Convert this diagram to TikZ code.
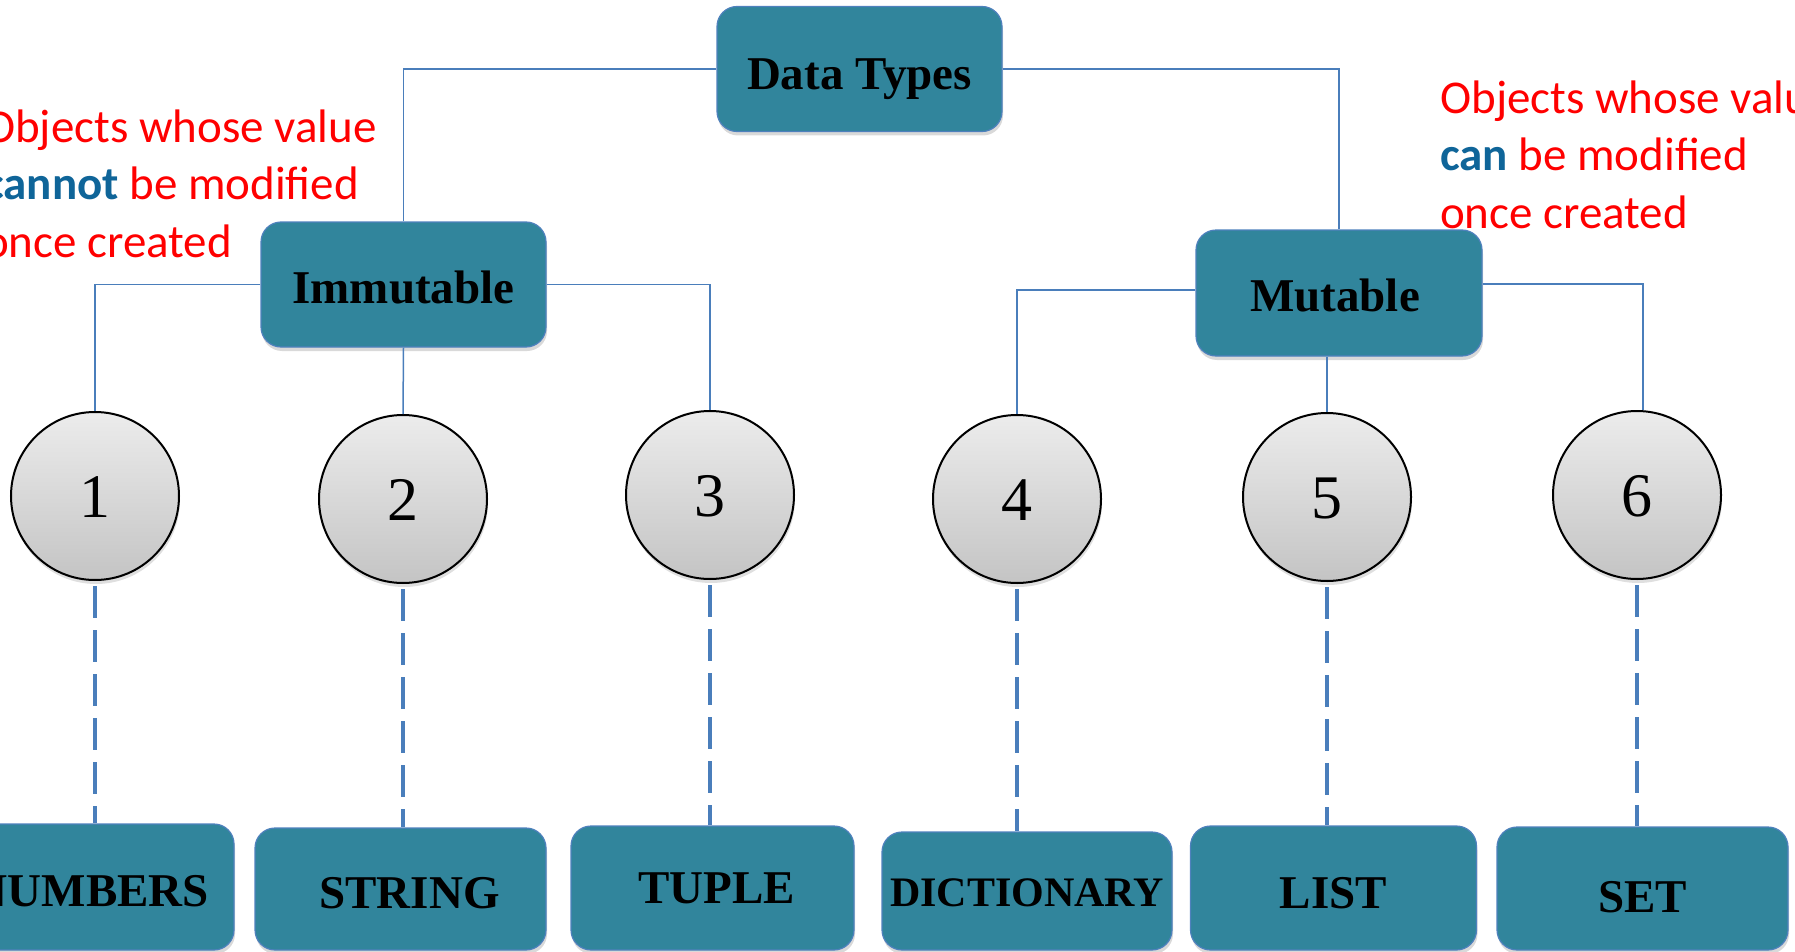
\documentclass[tikz,border=0pt]{standalone}
\usepackage{fontspec}
\setmainfont{Liberation Serif}
\newfontfamily\calib{Carlito}
\usetikzlibrary{shadows}
\definecolor{tealfill}{RGB}{49,133,156}
\definecolor{lineblue}{RGB}{74,126,187}
\definecolor{boxedge}{RGB}{79,129,189}
\definecolor{ctop}{RGB}{236,236,236}
\definecolor{cbot}{RGB}{196,196,196}
\definecolor{canblue}{RGB}{15,101,153}
\definecolor{annred}{RGB}{255,0,0}
\begin{document}
\begin{tikzpicture}[x=1pt,y=-1pt,
  box/.style={draw=boxedge, line width=1.2pt, fill=tealfill, rounded corners=20pt,
    inner sep=0pt, minimum width=285pt, minimum height=125pt,
    font=\fontsize{47}{50}\selectfont\bfseries, text depth=0pt,
    drop shadow={shadow xshift=1pt, shadow yshift=-4pt, opacity=0.3}},
  th/.style={text height=#1},
  circ/.style={circle, draw=black, line width=2pt, top color=ctop, bottom color=cbot,
    minimum size=168pt, inner sep=0pt, font=\fontsize{62}{62}\selectfont,
    text height=42pt, text depth=0pt,
    drop shadow={shadow xshift=1pt, shadow yshift=-4pt, opacity=0.25}},
  conn/.style={draw=lineblue, line width=1.5pt},
  dline/.style={draw=lineblue, line width=4pt, dash pattern=on 32pt off 12pt, shorten <=5pt},
  ann/.style={anchor=base west, align=left, inner sep=0pt,
    font=\calib\fontsize{47}{57.5}\selectfont, text=annred}
]
\useasboundingbox (0,0) rectangle (1795,952);

% top level
\node[box, th=41pt] (dt) at (859.5,69) {Data Types};
\node[box, th=38pt] (imm) at (403.5,284.5) {Immutable};
\node[box, th=37pt, minimum width=286pt, minimum height=126pt] (mut) at (1339,293) {Mutable\hspace*{8pt}};

% circles
\node[circ] (c1) at (95,496) {1};
\node[circ] (c2) at (403,499) {2};
\node[circ] (c3) at (710,495) {3};
\node[circ] (c4) at (1017,499) {4};
\node[circ] (c5) at (1327,497) {5};
\node[circ] (c6) at (1637,495) {6};

% bottom boxes
\node[box, th=39pt, minimum width=285pt, minimum height=126pt] (b1) at (91.5,887) {NUMBERS};
\node[box, th=39pt, minimum width=291pt, minimum height=122pt] (b2) at (400.5,889) {\hspace*{18pt}STRING};
\node[box, th=31pt, minimum width=283pt, minimum height=124pt] (b3) at (712.5,888) {\hspace*{8pt}TUPLE};
\node[box, th=30pt, minimum width=290pt, minimum height=118pt,
  font=\fontsize{42}{45}\selectfont\bfseries] (b4) at (1027,891) {DICTIONARY};
\node[box, th=41pt, minimum width=286pt, minimum height=124pt] (b5) at (1333.5,888) {LIST};
\node[box, th=48pt, minimum width=291pt, minimum height=123pt] (b6) at (1642.5,888.5) {SET};

% connectors
\draw[conn] (dt.west) -| (imm.north);
\draw[conn] (dt.east) -| (mut.north);
\draw[conn] (imm.west) -| (c1.north);
\draw[conn] (imm.east) -| (c3.north);
\draw[conn] (imm.south) -- (c2.north);
\draw[conn] ([yshift=3pt]mut.west) -| (c4.north);
\draw[conn] ([yshift=9pt]mut.east) -| ([xshift=6pt]c6.north);
\draw[conn] ([xshift=-12pt]mut.south) -- (c5.north);

% dashed links
\draw[dline] (c1.south) -- (c1.south |- b1.north);
\draw[dline] (c2.south) -- (c2.south |- b2.north);
\draw[dline] (c3.south) -- (c3.south |- b3.north);
\draw[dline] (c4.south) -- (c4.south |- b4.north);
\draw[dline] (c5.south) -- (c5.south |- b5.north);
\draw[dline] (c6.south) -- (c6.south |- b6.north);

% annotations (anchor = baseline of the last line)
\node[ann] (annL) at (-16,257) {Objects whose value\\{\bfseries\color{canblue}cannot} be modified\\once created};
\node[ann] (annR) at (1440,228) {Objects whose value\\{\bfseries\color{canblue}can} be modified\\once created};
\end{tikzpicture}
\end{document}
